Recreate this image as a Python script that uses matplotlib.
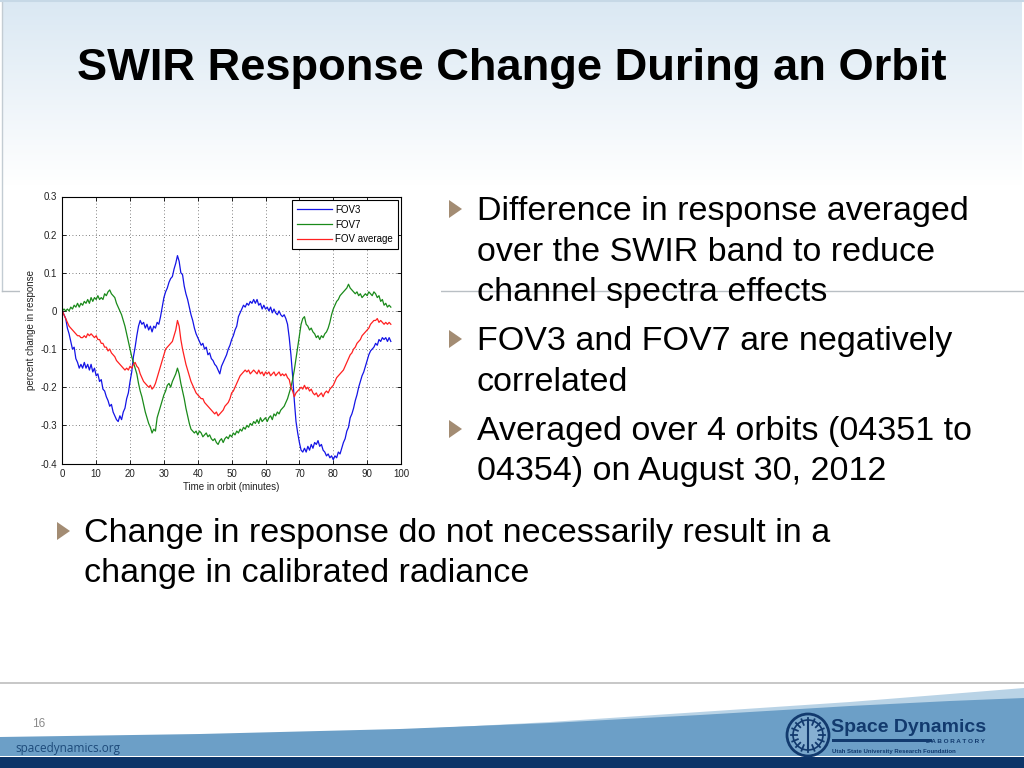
import numpy as np
import matplotlib
matplotlib.use("Agg")
import matplotlib.pyplot as plt
from matplotlib.patches import Polygon, Rectangle, Circle

plt.rcParams['font.family'] = ['Liberation Sans', 'DejaVu Sans']
plt.rcParams['axes.unicode_minus'] = False

# ---------------- data ----------------
time_step = 0.5
fov3 = [0.0, -0.01, -0.02, -0.045, -0.06, -0.08, -0.10, -0.095, -0.125, -0.135,
        -0.15, -0.14, -0.15, -0.135, -0.15, -0.14, -0.155, -0.14, -0.16, -0.15,
        -0.17, -0.165, -0.185, -0.18, -0.205, -0.21, -0.225, -0.235, -0.25, -0.245,
        -0.265, -0.275, -0.285, -0.29, -0.275, -0.285, -0.265, -0.255, -0.23, -0.215,
        -0.185, -0.16, -0.12, -0.095, -0.065, -0.04, -0.025, -0.035, -0.03, -0.045,
        -0.035, -0.05, -0.04, -0.055, -0.04, -0.045, -0.03, -0.035, -0.015, 0.01,
        0.035, 0.05, 0.06, 0.075, 0.085, 0.09, 0.11, 0.125, 0.145, 0.13,
        0.10, 0.095, 0.065, 0.045, 0.03, 0.01, -0.01, -0.025, -0.045, -0.06,
        -0.07, -0.08, -0.09, -0.085, -0.10, -0.095, -0.115, -0.11, -0.125, -0.13,
        -0.14, -0.145, -0.155, -0.165, -0.145, -0.135, -0.125, -0.115, -0.10, -0.09,
        -0.075, -0.065, -0.05, -0.04, -0.015, -0.005, 0.005, 0.015, 0.01, 0.02,
        0.015, 0.025, 0.02, 0.03, 0.02, 0.03, 0.015, 0.02, 0.005, 0.015,
        0.005, 0.01, 0.0, 0.01, -0.005, 0.005, -0.005, -0.01, 0.0, -0.01,
        -0.015, -0.01, -0.02, -0.035, -0.07, -0.115, -0.17, -0.235, -0.29, -0.32,
        -0.345, -0.365, -0.37, -0.36, -0.37, -0.355, -0.365, -0.35, -0.36, -0.345,
        -0.35, -0.34, -0.355, -0.35, -0.365, -0.37, -0.38, -0.375, -0.385, -0.38,
        -0.39, -0.38, -0.385, -0.37, -0.375, -0.36, -0.345, -0.335, -0.315, -0.305,
        -0.28, -0.27, -0.255, -0.235, -0.22, -0.20, -0.185, -0.17, -0.16, -0.145,
        -0.13, -0.115, -0.105, -0.10, -0.095, -0.085, -0.09, -0.075, -0.08, -0.07,
        -0.075, -0.07, -0.08, -0.07, -0.08]

fov7 = [0.0, 0.005, 0.0, 0.005, 0.0, 0.01, 0.005, 0.015, 0.01, 0.02,
        0.01, 0.02, 0.015, 0.025, 0.02, 0.03, 0.02, 0.035, 0.025, 0.035,
        0.03, 0.04, 0.03, 0.035, 0.03, 0.045, 0.04, 0.05, 0.055, 0.045,
        0.04, 0.035, 0.02, 0.01, 0.0, -0.01, -0.025, -0.04, -0.06, -0.08,
        -0.10, -0.12, -0.135, -0.15, -0.165, -0.19, -0.21, -0.225, -0.245, -0.265,
        -0.28, -0.295, -0.305, -0.32, -0.31, -0.315, -0.28, -0.265, -0.25, -0.235,
        -0.22, -0.21, -0.195, -0.19, -0.20, -0.185, -0.175, -0.165, -0.15, -0.165,
        -0.19, -0.21, -0.23, -0.255, -0.275, -0.295, -0.31, -0.315, -0.32, -0.315,
        -0.325, -0.315, -0.32, -0.33, -0.325, -0.32, -0.33, -0.325, -0.335, -0.34,
        -0.335, -0.345, -0.35, -0.34, -0.335, -0.345, -0.335, -0.33, -0.335, -0.325,
        -0.33, -0.32, -0.325, -0.315, -0.32, -0.31, -0.315, -0.305, -0.31, -0.30,
        -0.305, -0.295, -0.30, -0.29, -0.295, -0.285, -0.295, -0.28, -0.29, -0.285,
        -0.28, -0.29, -0.28, -0.275, -0.285, -0.27, -0.275, -0.265, -0.27, -0.26,
        -0.255, -0.25, -0.24, -0.23, -0.215, -0.20, -0.18, -0.155, -0.125, -0.095,
        -0.065, -0.035, -0.02, -0.015, -0.035, -0.04, -0.05, -0.045, -0.055, -0.06,
        -0.07, -0.065, -0.075, -0.065, -0.07, -0.06, -0.055, -0.045, -0.03, -0.01,
        0.005, 0.015, 0.025, 0.03, 0.04, 0.045, 0.05, 0.055, 0.06, 0.07,
        0.06, 0.055, 0.05, 0.045, 0.05, 0.04, 0.045, 0.035, 0.04, 0.045,
        0.04, 0.05, 0.045, 0.04, 0.05, 0.045, 0.035, 0.04, 0.025, 0.03,
        0.015, 0.02, 0.01, 0.015, 0.01]

fov_avg = [0.0, -0.01, -0.02, -0.03, -0.04, -0.045, -0.05, -0.055, -0.06, -0.065,
           -0.065, -0.07, -0.07, -0.065, -0.07, -0.06, -0.065, -0.06, -0.065, -0.07,
           -0.065, -0.075, -0.075, -0.085, -0.085, -0.095, -0.095, -0.105, -0.10, -0.11,
           -0.115, -0.12, -0.13, -0.135, -0.14, -0.145, -0.15, -0.155, -0.15, -0.155,
           -0.145, -0.15, -0.14, -0.135, -0.145, -0.15, -0.165, -0.175, -0.185, -0.19,
           -0.195, -0.20, -0.195, -0.205, -0.20, -0.19, -0.175, -0.16, -0.145, -0.13,
           -0.115, -0.10, -0.095, -0.09, -0.085, -0.08, -0.065, -0.05, -0.025, -0.04,
           -0.075, -0.10, -0.12, -0.14, -0.155, -0.17, -0.185, -0.195, -0.205, -0.215,
           -0.22, -0.225, -0.23, -0.23, -0.24, -0.245, -0.25, -0.255, -0.26, -0.265,
           -0.27, -0.265, -0.275, -0.27, -0.265, -0.26, -0.25, -0.245, -0.24, -0.23,
           -0.215, -0.21, -0.20, -0.19, -0.18, -0.17, -0.165, -0.16, -0.155, -0.16,
           -0.155, -0.165, -0.16, -0.155, -0.16, -0.165, -0.155, -0.165, -0.16, -0.17,
           -0.16, -0.165, -0.16, -0.17, -0.165, -0.16, -0.17, -0.165, -0.16, -0.17,
           -0.165, -0.17, -0.165, -0.175, -0.18, -0.20, -0.21, -0.225, -0.215, -0.21,
           -0.205, -0.20, -0.205, -0.195, -0.205, -0.20, -0.21, -0.205, -0.215, -0.22,
           -0.215, -0.225, -0.22, -0.215, -0.225, -0.215, -0.21, -0.215, -0.205, -0.20,
           -0.195, -0.185, -0.175, -0.17, -0.165, -0.16, -0.155, -0.145, -0.135, -0.125,
           -0.115, -0.11, -0.10, -0.095, -0.085, -0.08, -0.075, -0.065, -0.06, -0.055,
           -0.05, -0.045, -0.035, -0.03, -0.025, -0.025, -0.02, -0.03, -0.025, -0.03,
           -0.035, -0.03, -0.035, -0.03, -0.035]

series_labels = ["FOV3", "FOV7", "FOV average"]
x_ticks = [0, 10, 20, 30, 40, 50, 60, 70, 80, 90, 100]
y_ticks = [-0.4, -0.3, -0.2, -0.1, 0, 0.1, 0.2, 0.3]
y_tick_labels = ["-0.4", "-0.3", "-0.2", "-0.1", "0", "0.1", "0.2", "0.3"]

title = "SWIR Response Change During an Orbit"
right_bullets = [["Difference in response averaged", "over the SWIR band to reduce", "channel spectra effects"],
                 ["FOV3 and FOV7 are negatively", "correlated"],
                 ["Averaged over 4 orbits (04351 to", "04354) on August 30, 2012"]]
bottom_bullet = ["Change in response do not necessarily result in a", "change in calibrated radiance"]

time = np.arange(len(fov3)) * time_step

# ---------------- figure ----------------
W, H = 1024, 768
fig = plt.figure(figsize=(W / 100, H / 100), dpi=100)
fig.patch.set_facecolor("white")
bg = fig.add_axes([0, 0, 1, 1], zorder=0)
bg.set_xlim(0, W)
bg.set_ylim(H, 0)
bg.axis("off")

# header gradient
top_col = np.array([218, 232, 243]) / 255.0
ys = np.arange(0, 291)
t = np.clip(ys / 185.0, 0, 1)[:, None]
grad = top_col * (1 - t) + np.ones(3) * t
bg.imshow(grad[:, None, :], extent=[2, 1022, 291, 0], aspect="auto", zorder=0, interpolation="bilinear")
bg.plot([2, 2], [0, 291], color="#c3ccd3", lw=1, zorder=1)
bg.plot([2, 1024], [291, 291], color="#b9bfc4", lw=1, zorder=1)
bg.plot([0, 1024], [1, 1], color="#c6d8e6", lw=1.5, zorder=1)

# white patch behind chart image
bg.add_patch(Rectangle((20, 185), 421, 310, facecolor="white", edgecolor="none", zorder=2))

# title
bg.text(512, 80, title, fontsize=32.6, fontweight="bold", ha="center", va="baseline", color="black", zorder=3)

# bullets
tri_col = "#a38c73"
def tri(x, yc):
    bg.add_patch(Polygon([[x, yc - 9], [x + 13, yc], [x, yc + 9]], closed=True,
                         facecolor=tri_col, edgecolor="none", zorder=3))

baselines = [[220, 261, 301], [350, 391], [440, 480]]
for lines, bls in zip(right_bullets, baselines):
    tri(449, bls[0] - 11)
    for ln, b in zip(lines, bls):
        bg.text(477, b, ln, fontsize=24.5, va="baseline", ha="left", color="black", zorder=3)
tri(57, 531)
for ln, b in zip(bottom_bullet, [542, 582]):
    bg.text(84, b, ln, fontsize=24.5, va="baseline", ha="left", color="black", zorder=3)

# footer
bg.plot([0, 1024], [683, 683], color="#bdbdbd", lw=1.2, zorder=1)
light = [[380, 731], [550, 722], [700, 712], [850, 702], [950, 694], [1024, 688], [1024, 756], [380, 756]]
bg.add_patch(Polygon(light, closed=True, facecolor="#b9d3e6", edgecolor="none", zorder=1))
main = [[0, 737], [200, 734], [400, 729], [550, 723], [700, 715], [850, 706], [950, 701], [1024, 698],
        [1024, 756], [0, 756]]
bg.add_patch(Polygon(main, closed=True, facecolor="#6c9fc7", edgecolor="none", zorder=1))
bg.add_patch(Rectangle((0, 757), 1024, 11, facecolor="#0c3468", edgecolor="none", zorder=1))
bg.text(32, 727, "16", fontsize=8.5, color="#8a8a8a", zorder=3)
bg.text(15, 752, "spacedynamics.org", fontsize=8.5, color="#1d4a7a", family="Open Sans", zorder=3)

# logo
navy = "#123a6e"
bg.add_patch(Circle((808, 735), 21, facecolor="#7aa8cc", edgecolor=navy, lw=2, zorder=3))
bg.add_patch(Circle((808, 735), 15, facecolor="#86b0d2", edgecolor=navy, lw=1.2, zorder=3))
for a in np.linspace(0, 2 * np.pi, 16, endpoint=False):
    bg.plot([808 + 11 * np.cos(a), 808 + 17 * np.cos(a)], [735 + 11 * np.sin(a), 735 + 17 * np.sin(a)],
            color=navy, lw=1.3, zorder=4)
bg.plot([808, 808], [722, 748], color=navy, lw=1.5, zorder=4)
bg.text(831, 732, "Space Dynamics", fontsize=14, fontweight="bold", color=navy, va="baseline", zorder=3)
bg.add_patch(Rectangle((832, 739), 100, 2.5, facecolor=navy, edgecolor="none", zorder=3))
bg.text(985, 743, "L A B O R A T O R Y", fontsize=4.6, fontweight="bold", color=navy, ha="right", va="baseline", zorder=3)
bg.text(832, 753, "Utah State University Research Foundation", fontsize=4.3, fontweight="bold", color=navy,
        ha="left", va="baseline", zorder=3)

# ---------------- chart ----------------
ax = fig.add_axes([62.3 / W, 1 - 463.5 / H, 338.7 / W, 267 / H], zorder=5)
ax.set_facecolor("white")
ax.plot(time, fov3, color="#1414e6", lw=0.9, label=series_labels[0])
ax.plot(time, fov7, color="#1a8a1a", lw=0.9, label=series_labels[1])
ax.plot(time, fov_avg, color="#ff2020", lw=0.9, label=series_labels[2])
ax.set_xlim(0, 100)
ax.set_ylim(-0.4, 0.3)
ax.set_xticks(x_ticks)
ax.set_yticks(y_ticks)
ax.set_yticklabels(y_tick_labels)
ax.grid(True, color="#555555", linestyle=(0, (1, 3)), lw=0.6)
ax.tick_params(direction="in", length=3, width=0.6, top=True, right=True, labelsize=7,
               labelcolor="#222222", pad=4)
for s in ax.spines.values():
    s.set_linewidth(0.8)
ax.set_xlabel("Time in orbit (minutes)", fontsize=7, color="#222222", labelpad=2)
ax.set_ylabel("percent change in response", fontsize=7, color="#222222", labelpad=3)
leg = ax.legend(loc="upper right", fontsize=7, frameon=True, fancybox=False, edgecolor="black",
                framealpha=1, handlelength=3.6, handletextpad=0.3, labelspacing=0.5,
                borderaxespad=0.35, borderpad=0.5)
leg.get_frame().set_linewidth(0.8)

fig.savefig("out.png", dpi=100)
